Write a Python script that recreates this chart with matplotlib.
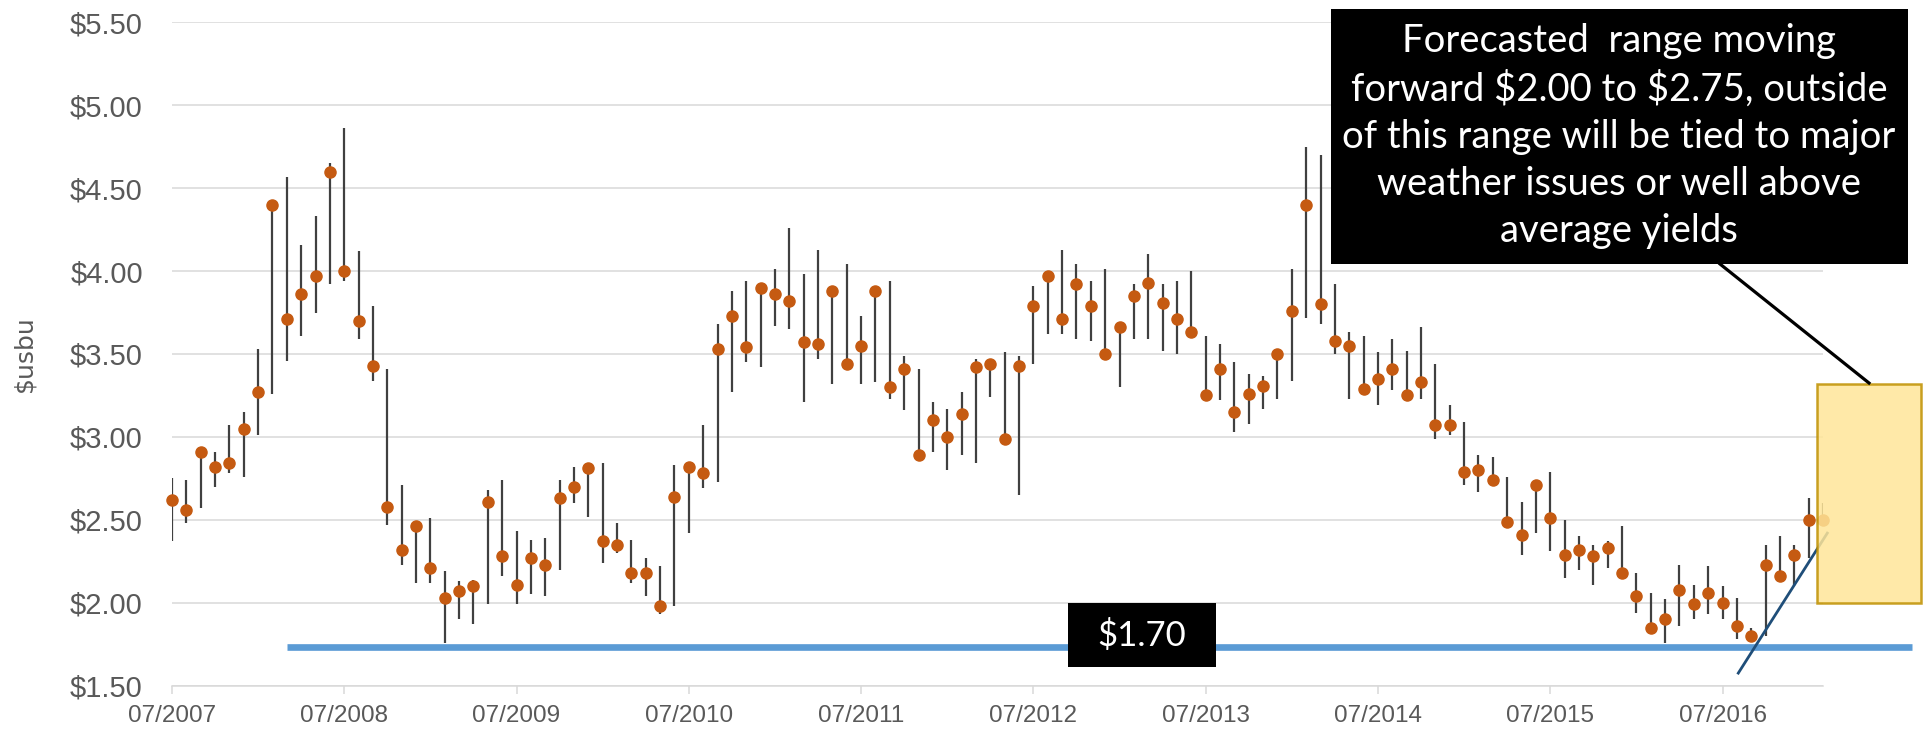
import matplotlib
matplotlib.use("Agg")
import matplotlib.pyplot as plt
from matplotlib.patches import Rectangle
from matplotlib.lines import Line2D

# monthly close / high / low, 07/2007 .. 02/2017 ($/bu)
close = [2.62, 2.56, 2.91, 2.82, 2.84, 3.05,
         3.27, 4.40, 3.71, 3.86, 3.97, 4.60, 4.00, 3.70, 3.43, 2.58, 2.32, 2.46,
         2.21, 2.03, 2.07, 2.10, 2.61, 2.28, 2.11, 2.27, 2.23, 2.63, 2.70, 2.81,
         2.37, 2.35, 2.18, 2.18, 1.98, 2.64, 2.82, 2.78, 3.53, 3.73, 3.54, 3.90,
         3.86, 3.82, 3.57, 3.56, 3.88, 3.44, 3.55, 3.88, 3.30, 3.41, 2.89, 3.10,
         3.00, 3.14, 3.42, 3.44, 2.99, 3.43, 3.79, 3.97, 3.71, 3.92, 3.79, 3.50,
         3.66, 3.85, 3.93, 3.81, 3.71, 3.63, 3.25, 3.41, 3.15, 3.26, 3.31, 3.50,
         3.76, 4.40, 3.80, 3.58, 3.55, 3.29, 3.35, 3.41, 3.25, 3.33, 3.07, 3.07,
         2.79, 2.80, 2.74, 2.49, 2.41, 2.71, 2.51, 2.29, 2.32, 2.28, 2.33, 2.18,
         2.04, 1.85, 1.90, 2.08, 1.99, 2.06, 2.00, 1.86, 1.80, 2.23, 2.16, 2.29,
         2.50, 2.50]
high = [2.75, 2.74, 2.91, 2.91, 3.07, 3.15,
        3.53, 4.40, 4.57, 4.16, 4.33, 4.65, 4.86, 4.12, 3.79, 3.41, 2.71, 2.46,
        2.51, 2.19, 2.13, 2.14, 2.68, 2.74, 2.43, 2.38, 2.39, 2.74, 2.82, 2.81,
        2.84, 2.48, 2.38, 2.27, 2.22, 2.83, 2.82, 3.07, 3.68, 3.88, 3.94, 3.90,
        4.01, 4.26, 3.98, 4.13, 3.88, 4.04, 3.73, 3.88, 3.94, 3.49, 3.41, 3.21,
        3.17, 3.27, 3.47, 3.44, 3.51, 3.49, 3.91, 3.97, 4.13, 4.04, 3.94, 4.01,
        3.66, 3.92, 4.10, 3.92, 3.94, 4.00, 3.61, 3.56, 3.45, 3.38, 3.37, 3.50,
        4.01, 4.75, 4.70, 3.92, 3.63, 3.61, 3.51, 3.59, 3.52, 3.66, 3.44, 3.19,
        3.09, 2.89, 2.88, 2.76, 2.61, 2.74, 2.79, 2.50, 2.40, 2.35, 2.37, 2.46,
        2.18, 2.06, 2.02, 2.23, 2.11, 2.22, 2.10, 2.03, 1.85, 2.35, 2.40, 2.35,
        2.63, 2.60]
low = [2.37, 2.48, 2.57, 2.70, 2.78, 2.76,
       3.01, 3.26, 3.46, 3.61, 3.75, 3.92, 3.94, 3.59, 3.34, 2.47, 2.23, 2.12,
       2.12, 1.76, 1.90, 1.87, 1.99, 2.16, 1.99, 2.05, 2.04, 2.20, 2.60, 2.52,
       2.24, 2.30, 2.12, 2.04, 1.93, 1.98, 2.42, 2.69, 2.73, 3.27, 3.45, 3.42,
       3.67, 3.65, 3.21, 3.47, 3.32, 3.44, 3.32, 3.33, 3.23, 3.16, 2.89, 2.91,
       2.80, 2.89, 2.84, 3.24, 2.95, 2.65, 3.44, 3.62, 3.62, 3.59, 3.58, 3.50,
       3.30, 3.59, 3.59, 3.52, 3.50, 3.63, 3.25, 3.22, 3.03, 3.08, 3.17, 3.23,
       3.34, 3.72, 3.68, 3.50, 3.23, 3.29, 3.19, 3.28, 3.25, 3.23, 2.99, 3.01,
       2.71, 2.67, 2.74, 2.49, 2.29, 2.42, 2.31, 2.15, 2.20, 2.11, 2.21, 2.18,
       1.94, 1.85, 1.76, 1.86, 1.90, 1.93, 1.90, 1.78, 1.80, 1.80, 2.16, 2.10,
       2.27, 2.49]
months = list(range(len(close)))

tick_pos = [0, 12, 24, 36, 48, 60, 72, 84, 96, 108]
tick_labels = ["07/2007", "07/2008", "07/2009", "07/2010", "07/2011",
               "07/2012", "07/2013", "07/2014", "07/2015", "07/2016"]
y_ticks = [1.5, 2.0, 2.5, 3.0, 3.5, 4.0, 4.5, 5.0, 5.5]

support_level = 1.735          # drawn as the "$1.70" floor
support_span = [8, 121.2]
trend_x = [109.1, 115.3]
trend_y = [1.576, 2.42]
forecast_x = [114.6, 121.8]
forecast_y = [2.00, 3.32]

callout = ("Forecasted  range moving\nforward $2.00 to $2.75, outside\n"
           "of this range will be tied to major\nweather issues or well above\n"
           "average yields")

W, H = 1925, 735
fig = plt.figure(figsize=(W / 100, H / 100), dpi=100)
ax = fig.add_axes([172 / W, 49.3 / H, (1823 - 172) / W, (685.7 - 22.3) / H])

ax.set_xlim(0, 115)
ax.set_ylim(1.5, 5.5)
ax.set_yticks(y_ticks)
ax.set_yticklabels([f"${v:.2f}" for v in y_ticks])
ax.set_xticks(tick_pos)
ax.set_xticklabels(tick_labels)
ax.grid(axis="y", color="#d9d9d9", linewidth=1.1, zorder=0)
ax.set_axisbelow(True)
for s in ["top", "right", "left"]:
    ax.spines[s].set_visible(False)
ax.spines["bottom"].set_color("#d9d9d9")
ax.spines["bottom"].set_linewidth(1.1)
ax.tick_params(axis="y", length=0, pad=21, labelsize=21, labelcolor="#595959")
ax.tick_params(axis="x", length=6, width=1.1, color="#d9d9d9", pad=8,
               labelsize=17.5, labelcolor="#595959")
for lab in ax.get_xticklabels() + ax.get_yticklabels():
    lab.set_family("Liberation Sans")
ax.set_ylabel("$usbu", fontsize=18, color="#595959", family="Liberation Sans Narrow")
ax.yaxis.set_label_coords(-0.082, 0.5)

ax.plot(support_span, [support_level, support_level], color="#5b9bd5", lw=4.8,
        solid_capstyle="butt", clip_on=False, zorder=2)
ax.vlines(months, low, high, color="#404040", lw=1.6, zorder=3)
ax.plot(months, close, "o", color="#c55a11", ms=8, mec="#c55a11", zorder=4, clip_on=False)
ax.plot(trend_x, trend_y, color="#1f4e79", lw=2, clip_on=False, zorder=5)

ax.add_patch(Rectangle((forecast_x[0], forecast_y[0]), forecast_x[1] - forecast_x[0],
                       forecast_y[1] - forecast_y[0], facecolor="#ffe699", alpha=0.85,
                       edgecolor="#bf9000", lw=1.8, clip_on=False, zorder=6))

# "$1.70" label box
fig.add_artist(Rectangle((1068 / W, 1 - 667 / H), 148 / W, 64 / H, facecolor="black",
                         transform=fig.transFigure, zorder=7))
fig.text(1142 / W, 1 - 635 / H, "$1.70", color="white", fontsize=25, family="Lato",
         ha="center", va="center", zorder=8, parse_math=False)

# callout
fig.add_artist(Rectangle((1331 / W, 1 - 264 / H), 577 / W, 255 / H, facecolor="black",
                         transform=fig.transFigure, zorder=7))
fig.text(1619 / W, 1 - 136 / H, callout, color="white", fontsize=27.5, family="Lato",
         ha="center", va="center", linespacing=1.38, zorder=8, parse_math=False)
fig.add_artist(Line2D([1720 / W, 1869 / W], [1 - 264 / H, 1 - 383 / H], color="black",
                      lw=2.3, transform=fig.transFigure, zorder=7))

fig.savefig("out.png", dpi=100)
